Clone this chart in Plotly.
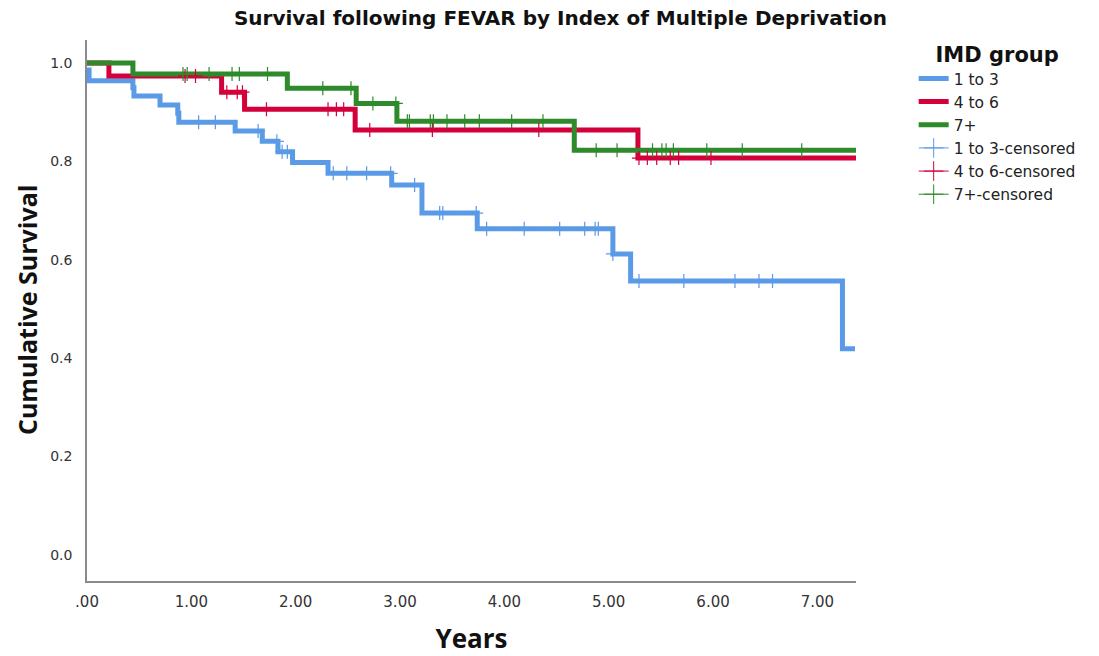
import numpy as np
import plotly.graph_objects as go

# ---- data ----
blue_t = [0, 0.02, 0.44, 0.45, 0.70, 0.87, 0.88, 1.42, 1.68, 1.83, 1.97, 2.31, 2.92, 3.21, 3.74, 5.04, 5.21, 7.24, 7.36]
blue_s = [0.986, 0.964, 0.950, 0.933, 0.915, 0.898, 0.880, 0.862, 0.841, 0.820, 0.798, 0.776, 0.752, 0.695, 0.663, 0.612, 0.557, 0.419, 0.419]
blue_c = [1.07, 1.23, 1.64, 1.82, 1.87, 1.92, 2.36, 2.49, 2.68, 2.91, 3.14, 3.38, 3.41, 3.73, 3.83, 4.19, 4.53, 4.77, 4.87, 4.90, 5.04, 5.29, 5.72, 6.21, 6.44, 6.57]

red_t = [0, 0.21, 1.29, 1.51, 2.57, 5.28, 7.37]
red_s = [1.0, 0.974, 0.941, 0.906, 0.864, 0.807, 0.807]
red_c = [0.94, 1.04, 1.34, 1.44, 1.49, 1.72, 2.31, 2.39, 2.46, 2.71, 3.31, 4.33, 5.29, 5.37, 5.46, 5.59, 5.67, 5.98]

green_t = [0, 0.44, 1.92, 2.58, 2.97, 4.67, 7.37]
green_s = [1.0, 0.978, 0.949, 0.918, 0.882, 0.823, 0.823]
green_c = [0.92, 0.96, 1.17, 1.39, 1.46, 1.73, 2.26, 2.53, 2.74, 2.96, 3.07, 3.09, 3.29, 3.32, 3.45, 3.62, 3.76, 4.07, 4.37,
           4.88, 5.08, 5.42, 5.51, 5.55, 5.62, 5.94, 6.28, 6.85]

groups = ["1 to 3", "4 to 6", "7+"]
colors = ["#5a9ae6", "#d4003a", "#2e8a2a"]
x_ticks = [0, 1, 2, 3, 4, 5, 6, 7]
x_ticktext = [".00", "1.00", "2.00", "3.00", "4.00", "5.00", "6.00", "7.00"]
y_ticks = [0.0, 0.2, 0.4, 0.6, 0.8, 1.0]


def surv_at(times, surv, c):
    idx = np.searchsorted(np.array(times), np.array(c), side="right") - 1
    return [surv[i] for i in idx]


fig = go.Figure()
series = [(blue_t, blue_s), (red_t, red_s), (green_t, green_s)]
cens = [blue_c, red_c, green_c]
for name, col, (t, s) in zip(groups, colors, series):
    fig.add_trace(go.Scatter(x=t, y=s, mode="lines", line=dict(color=col, width=5, shape="hv"),
                             name=name, hoverinfo="skip"))
# legend entries for censored marks (line + cross, like the reference legend)
for name, col in zip(groups, colors):
    fig.add_trace(go.Scatter(x=[None], y=[None], mode="lines+markers", name=name + "-censored",
                             line=dict(color=col, width=1),
                             marker=dict(symbol="cross-thin", size=14, color=col,
                                         line=dict(color=col, width=1))))
for name, col, (t, s), c in zip(groups, colors, series, cens):
    fig.add_trace(go.Scatter(x=c, y=surv_at(t, s, c), mode="markers", name=name + "-censored",
                             showlegend=False,
                             marker=dict(symbol="cross-thin", size=10, color=col,
                                         line=dict(color=col, width=1.2))))

fig.update_layout(
    width=1099, height=656,
    margin=dict(l=87, r=243, t=40, b=75, autoexpand=False),
    paper_bgcolor="white", plot_bgcolor="white",
    font=dict(family="DejaVu Sans", color="#222222"),
    title=dict(text="<b>Survival following FEVAR by Index of Multiple Deprivation</b>",
               x=0.51, xanchor="center", y=0.972, yanchor="middle",
               font=dict(size=20, family="DejaVu Sans", color="#111111")),
    legend=dict(x=1.075, y=1.01, xanchor="left", yanchor="top",
                font=dict(size=15.5, family="DejaVu Sans", color="#222222"),
                title=dict(text="<b>IMD group</b>", side="top center",
                           font=dict(size=21, family="DejaVu Sans", color="#111111")),
                tracegroupgap=0, itemwidth=30, bgcolor="rgba(0,0,0,0)"),
    showlegend=True,
    annotations=[dict(text="<b>Cumulative Survival</b>", textangle=-90, xref="paper", yref="paper",
                      x=(27 - 87) / 769, y=(581 - 310) / 541, xanchor="center", yanchor="middle",
                      showarrow=False, font=dict(size=25, family="Open Sans", color="#111111"))],
)
fig.update_xaxes(range=[0, 7.37], tickvals=x_ticks, ticktext=x_ticktext, showgrid=False, zeroline=False,
                 automargin=False,
                 showline=True, linecolor="#8a8a8a", linewidth=1.5, ticks="", ticklabelstandoff=6,
                 tickfont=dict(size=15, color="#333333"),
                 title=dict(text="<b>Years</b>", standoff=23, font=dict(size=26, family="Open Sans", color="#111111")))
fig.update_yaxes(range=[-0.053, 1.047], tickvals=y_ticks, tickformat=".1f", showgrid=False, zeroline=False,
                 automargin=False,
                 showline=True, linecolor="#8a8a8a", linewidth=1.5, ticks="", ticklabelstandoff=10,
                 tickfont=dict(size=14, color="#333333"))

fig.write_html("out.html")
